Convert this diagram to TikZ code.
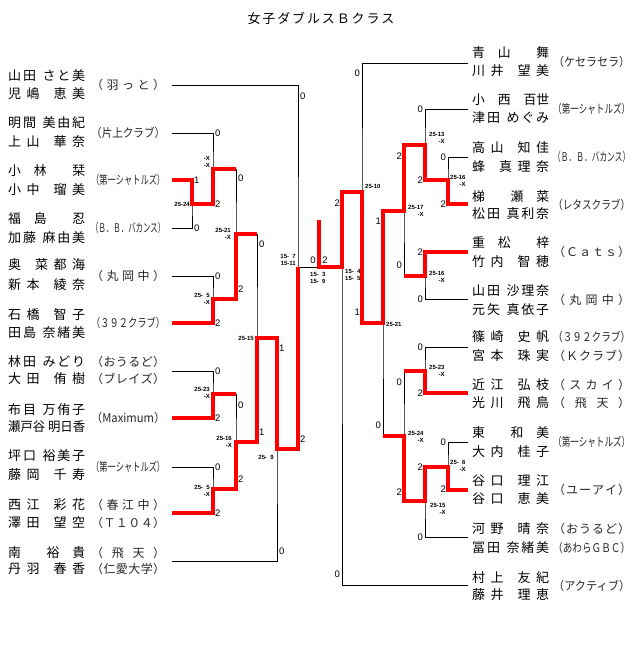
\documentclass[tikz,border=0pt]{standalone}
\usepackage{fontspec}
\usepackage{graphicx}
\setmainfont{Liberation Sans}
\newfontfamily\jp{Noto Sans CJK JP}
\newfontfamily\numf{Liberation Sans}
\makeatletter
\def\dst@a#1{#1\dst@b}
\def\dst@b#1{\ifx\relax#1\else\hfil#1\expandafter\dst@b\fi}
\newcommand\fitdist[2]{\setbox0=\hbox{#2}\ifdim\wd0>#1\relax\resizebox{#1}{\height}{#2}\else\hbox to #1{\dst@a#2\relax}\fi}
\makeatother
\newcommand\NL[1]{\fitdist{77pt}{#1}}
\newcommand\CL[1]{\fitdist{74pt}{#1}}
\newcommand\CR[1]{\fitdist{77pt}{#1}}
\begin{document}
\begin{tikzpicture}[x=1pt,y=-1pt,
  nm/.style={anchor=west,inner sep=0pt,font=\jp\fontsize{13}{13}\selectfont},
  clb/.style={anchor=west,inner sep=0pt,text=black!85,font=\jp\fontsize{12}{12}\selectfont},
  sc/.style={inner sep=0pt,font=\numf\fontsize{9.5}{9.5}\selectfont},
  scl/.style={sc,anchor=west},
  scr/.style={sc,anchor=east},
  tl/.style={inner sep=0pt,align=right,font=\numf\bfseries\fontsize{6}{7}\selectfont},
  br/.style={line width=1pt,black},
  win/.style={line width=3.8pt,red,line join=miter}]
\useasboundingbox (0,0) rectangle (640,645);
\fill[white] (0,0) rectangle (640,645);
% title
\node[inner sep=0pt,font=\jp\fontsize{13}{13}\selectfont] (title) at (321,18) {\fitdist{147pt}{女子ダブルスＢクラス}};
% ---------------- left names ----------------
\node[nm] (nL1a) at (8,76) {\NL{山田~さと美}};
\node[nm] (nL1b) at (8,94) {\NL{児嶋~恵美}};
\node[nm] (nL2a) at (8,123) {\NL{明間~美由紀}};
\node[nm] (nL2b) at (8,142) {\NL{上山~華奈}};
\node[nm] (nL3a) at (8,171) {\NL{小　林　　栞}};
\node[nm] (nL3b) at (8,190) {\NL{小中~瑠美}};
\node[nm] (nL4a) at (8,219) {\NL{福　島　　忍}};
\node[nm] (nL4b) at (8,238) {\NL{加藤~麻由美}};
\node[nm] (nL5a) at (8,265) {\NL{奥~菜都海}};
\node[nm] (nL5b) at (8,285) {\NL{新本~綾奈}};
\node[nm] (nL6a) at (8,315) {\NL{石橋~智子}};
\node[nm] (nL6b) at (8,333) {\NL{田島~奈緒美}};
\node[nm] (nL7a) at (8,362) {\NL{林田~みどり}};
\node[nm] (nL7b) at (8,379) {\NL{大田~侑樹}};
\node[nm] (nL8a) at (8,410) {\NL{布目~万侑子}};
\node[nm] (nL8b) at (8,427) {\NL{瀬戸谷~明日香}};
\node[nm] (nL9a) at (8,456) {\NL{坪口~裕美子}};
\node[nm] (nL9b) at (8,475) {\NL{藤岡~千寿}};
\node[nm] (nL10a) at (8,505) {\NL{西江~彩花}};
\node[nm] (nL10b) at (8,523) {\NL{澤田~望空}};
\node[nm] (nL11a) at (8,553) {\NL{南　　裕　貴}};
\node[nm] (nL11b) at (8,569) {\NL{丹羽~春香}};
% left clubs
\node[clb] (cL1) at (91,85) {\CL{（羽っと）}};
\node[clb] (cL2) at (91,133) {\CL{（片上クラブ）}};
\node[clb] (cL3) at (91,180) {\CL{（第一シャトルズ）}};
\node[clb] (cL4) at (91,228) {\CL{（Ｂ．Ｂ．バカンス）}};
\node[clb] (cL5) at (91,276) {\CL{（丸岡中）}};
\node[clb] (cL6) at (91,323) {\CL{（３９２クラブ）}};
\node[clb] (cL7a) at (91,362) {\CL{（おうるど）}};
\node[clb] (cL7b) at (91,379) {\CL{（ブレイズ）}};
\node[clb] (cL8) at (91,418) {\CL{（Maximum）}};
\node[clb] (cL9) at (91,467) {\CL{（第一シャトルズ）}};
\node[clb] (cL10a) at (91,505) {\CL{（春江中）}};
\node[clb] (cL10b) at (91,523) {\CL{（Ｔ１０４）}};
\node[clb] (cL11a) at (91,553) {\CL{（飛天）}};
\node[clb] (cL11b) at (91,569) {\CL{（仁愛大学）}};
% ---------------- right names ----------------
\node[nm] (nR1a) at (472,53) {\NL{青　山　　舞}};
\node[nm] (nR1b) at (472,71) {\NL{川井~望美}};
\node[nm] (nR2a) at (472,100) {\NL{小　西　百世}};
\node[nm] (nR2b) at (472,118) {\NL{津田~めぐみ}};
\node[nm] (nR3a) at (472,148) {\NL{高山~知佳}};
\node[nm] (nR3b) at (472,167) {\NL{蜂~真理奈}};
\node[nm] (nR4a) at (472,197) {\NL{梯　　瀬　菜}};
\node[nm] (nR4b) at (472,214) {\NL{松田~真利奈}};
\node[nm] (nR5a) at (472,243) {\NL{重　松　　梓}};
\node[nm] (nR5b) at (472,262) {\NL{竹内~智穂}};
\node[nm] (nR6a) at (472,291) {\NL{山田~沙理奈}};
\node[nm] (nR6b) at (472,310) {\NL{元矢~真依子}};
\node[nm] (nR7a) at (472,337) {\NL{篠崎~史帆}};
\node[nm] (nR7b) at (472,356) {\NL{宮本~珠実}};
\node[nm] (nR8a) at (472,385) {\NL{近江~弘枝}};
\node[nm] (nR8b) at (472,403) {\NL{光川~飛鳥}};
\node[nm] (nR9a) at (472,433) {\NL{東　　和　美}};
\node[nm] (nR9b) at (472,452) {\NL{大内~桂子}};
\node[nm] (nR10a) at (472,481) {\NL{谷口~理江}};
\node[nm] (nR10b) at (472,499) {\NL{谷口~恵美}};
\node[nm] (nR11a) at (472,529) {\NL{河野~晴奈}};
\node[nm] (nR11b) at (472,548) {\NL{冨田~奈緒美}};
\node[nm] (nR12a) at (472,578) {\NL{村上~友紀}};
\node[nm] (nR12b) at (472,595) {\NL{藤井~理恵}};
% right clubs
\node[clb] (cR1) at (553,62) {\CR{（ケセラセラ）}};
\node[clb] (cR2) at (553,109) {\CR{（第一シャトルズ）}};
\node[clb] (cR3) at (553,157) {\CR{（Ｂ．Ｂ．バカンス）}};
\node[clb] (cR4) at (553,205) {\CR{（レタスクラブ）}};
\node[clb] (cR5) at (553,252) {\CR{（Ｃａｔｓ）}};
\node[clb] (cR6) at (553,300) {\CR{（丸岡中）}};
\node[clb] (cR7a) at (553,337) {\CR{（３９２クラブ）}};
\node[clb] (cR7b) at (553,356) {\CR{（Ｋクラブ）}};
\node[clb] (cR8a) at (553,385) {\CR{（スカイ）}};
\node[clb] (cR8b) at (553,403) {\CR{（飛天）}};
\node[clb] (cR9) at (553,442) {\CR{（第一シャトルズ）}};
\node[clb] (cR10) at (553,490) {\CR{（ユーアイ）}};
\node[clb] (cR11a) at (553,529) {\CR{（おうるど）}};
\node[clb] (cR11b) at (553,548) {\CR{（あわらＧＢＣ）}};
\node[clb] (cR12) at (553,586) {\CR{（アクティブ）}};
% ---------------- bracket coordinates ----------------
\coordinate (eL1) at (172,85);  \coordinate (eL2) at (172,133);
\coordinate (eL3) at (172,180); \coordinate (eL4) at (172,228);
\coordinate (eL5) at (172,276); \coordinate (eL6) at (172,323);
\coordinate (eL7) at (172,371); \coordinate (eL8) at (172,418);
\coordinate (eL9) at (172,467); \coordinate (eL10) at (172,513);
\coordinate (eL11) at (172,561);
\coordinate (mA) at (192,204); \coordinate (mB) at (213,169);
\coordinate (mC) at (213,299); \coordinate (mD) at (236,234);
\coordinate (mE) at (213,394); \coordinate (mF) at (213,489);
\coordinate (mG) at (236,442); \coordinate (mH) at (257,338);
\coordinate (mI) at (277,449); \coordinate (mJ) at (298,267);
\coordinate (eR1) at (468,63);  \coordinate (eR2) at (468,109);
\coordinate (eR3) at (468,157); \coordinate (eR4) at (468,204);
\coordinate (eR5) at (468,252); \coordinate (eR6) at (468,299);
\coordinate (eR7) at (468,347); \coordinate (eR8) at (468,393);
\coordinate (eR9) at (468,442); \coordinate (eR10) at (468,490);
\coordinate (eR11) at (468,537); \coordinate (eR12) at (468,585);
\coordinate (nA) at (448,180); \coordinate (nB) at (425,145);
\coordinate (nC) at (425,276); \coordinate (nD) at (404,211);
\coordinate (nE) at (425,371); \coordinate (nF) at (448,467);
\coordinate (nG) at (425,501); \coordinate (nH) at (404,436);
\coordinate (nI) at (383,323); \coordinate (nJ) at (362,192);
\coordinate (nK) at (342,267);
\coordinate (ch) at (319,267); \coordinate (chtop) at (319,220);
% ---------------- black bracket ----------------
\draw[br] (eL3) -| (mA) |- (eL4);
\draw[br] (eL2) -| (mB) |- (mA);
\draw[br] (eL5) -| (mC) |- (eL6);
\draw[br] (mB) -| (mD) |- (mC);
\draw[br] (eL7) -| (mE) |- (eL8);
\draw[br] (eL9) -| (mF) |- (eL10);
\draw[br] (mE) -| (mG) |- (mF);
\draw[br] (mD) -| (mH) |- (mG);
\draw[br] (mH) -| (mI) |- (eL11);
\draw[br] (eL1) -| (mJ) |- (mI);
\draw[br] (mJ) -- (nK);
\draw[br] (eR3) -| (nA) |- (eR4);
\draw[br] (eR2) -| (nB) |- (nA);
\draw[br] (eR5) -| (nC) |- (eR6);
\draw[br] (nB) -| (nD) |- (nC);
\draw[br] (eR7) -| (nE) |- (eR8);
\draw[br] (eR9) -| (nF) |- (eR10);
\draw[br] (nF) -| (nG) |- (eR11);
\draw[br] (nE) -| (nH) |- (nG);
\draw[br] (nD) -| (nI) |- (nH);
\draw[br] (eR1) -| (nJ) |- (nI);
\draw[br] (nJ) -| (nK) |- (eR12);
% ---------------- winners (red) ----------------
\draw[win] (eL3) -| (mA) -| (mB) -- (mB -| mD);
\draw[win] (eL6) -| (mC) -| (mD) -- (mD -| mH);
\draw[win] (eL8) -| (mE) -- (mE -| mG);
\draw[win] (eL10) -| (mF) -| (mG) -| (mH) -| (mI) -| (mJ);
\draw[win] (eR4) -| (nA) -| (nB) -| (nD) -| (nI) -| (nJ) -| (nK) -- (ch) -- (chtop);
\draw[win] (eR5) -| (nC) -- (nC -| nD);
\draw[win] (eR8) -| (nE) -- (nE -| nH);
\draw[win] (eR10) -| (nF) -| (nG) -| (nH) -- (nH -| nI);
% ---------------- game scores ----------------
\node[scl] (gL1) at (300,96) {0};  \node[scl] (gL2) at (300,439) {2};
\node[scl] (gL3) at (215,133) {0}; \node[scl] (gL4) at (194,180) {1};
\node[scl] (gL5) at (215,204) {2}; \node[scl] (gL6) at (194,228) {0};
\node[scl] (gL7) at (238,178) {0}; \node[scl] (gL8) at (238,289) {2};
\node[scl] (gL9) at (215,276) {0}; \node[scl] (gL10) at (215,323) {2};
\node[scl] (gL11) at (259,244) {0}; \node[scl] (gL12) at (259,432) {1};
\node[scl] (gL13) at (279,348) {1}; \node[scl] (gL14) at (279,551) {0};
\node[scl] (gL15) at (215,371) {0}; \node[scl] (gL16) at (215,418) {2};
\node[scl] (gL17) at (238,405) {0}; \node[scl] (gL18) at (238,479) {2};
\node[scl] (gL19) at (215,467) {0}; \node[scl] (gL20) at (215,513) {2};
\node[sc] (gF1) at (313,260) {0};  \node[sc] (gF2) at (325,260) {2};
\node[scr] (gR1) at (360,73) {0};  \node[scr] (gR2) at (360,312) {1};
\node[scr] (gR3) at (340,203) {2}; \node[scr] (gR4) at (340,574) {0};
\node[scr] (gR5) at (381,221) {1}; \node[scr] (gR6) at (381,425) {0};
\node[scr] (gR7) at (402,156) {2}; \node[scr] (gR8) at (402,265) {0};
\node[scr] (gR9) at (423,109) {0}; \node[scr] (gR10) at (423,180) {2};
\node[scr] (gR11) at (446,157) {0}; \node[scr] (gR12) at (446,204) {2};
\node[scr] (gR13) at (423,252) {2}; \node[scr] (gR14) at (423,299) {0};
\node[scr] (gR15) at (402,382) {0}; \node[scr] (gR16) at (402,492) {2};
\node[scr] (gR17) at (423,347) {0}; \node[scr] (gR18) at (423,393) {2};
\node[scr] (gR19) at (423,467) {2}; \node[scr] (gR20) at (423,537) {0};
\node[scr] (gR21) at (446,442) {0}; \node[scr] (gR22) at (446,489) {2};
% ---------------- point scores ----------------
\node[tl,anchor=east] (sA1) at (190,204) {25-24};
\node[tl,anchor=east] (sA2) at (210,161.5) {-X\\-X};
\node[tl,anchor=east] (sA3) at (231,233.5) {25-21\\-X};
\node[tl,anchor=east] (sA4) at (210,298.5) {25-\hphantom{0}5\\-X};
\node[tl,anchor=east] (sA5) at (254,338) {25-15};
\node[tl,anchor=east] (sA6) at (210,392.5) {25-23\\-X};
\node[tl,anchor=east] (sA7) at (232,441.5) {25-16\\-X};
\node[tl,anchor=east] (sA8) at (210,490.5) {25-\hphantom{0}5\\-X};
\node[tl,anchor=east] (sA9) at (274,457) {25-\hphantom{0}9};
\node[tl,anchor=east] (sA10) at (296,259.5) {15-\hphantom{0}7\\15-11};
\node[tl,anchor=west] (sC) at (310,277.5) {15-\hphantom{0}3\\15-\hphantom{0}9};
\node[tl,anchor=west] (sB0) at (345,274.5) {15-\hphantom{0}4\\15-\hphantom{0}5};
\node[tl,anchor=west] (sB1) at (365,186) {25-10};
\node[tl,anchor=west] (sB2) at (386,324) {25-21};
\node[tl,anchor=west] (sB3) at (408,210.5) {25-17\\-X};
\node[tl,anchor=west] (sB4) at (429,137.5) {25-13\\-X};
\node[tl,anchor=west] (sB5) at (450,180.5) {25-16\\-X};
\node[tl,anchor=west] (sB6) at (429,276.5) {25-16\\-X};
\node[tl,anchor=west] (sB7) at (429,370.5) {25-23\\-X};
\node[tl,anchor=west] (sB8) at (408,436.5) {25-24\\-X};
\node[tl,anchor=west] (sB9) at (450,465.5) {25-\hphantom{0}6\\-X};
\node[tl,anchor=west] (sB10) at (430,508.5) {25-15\\-X};
\end{tikzpicture}
\end{document}
